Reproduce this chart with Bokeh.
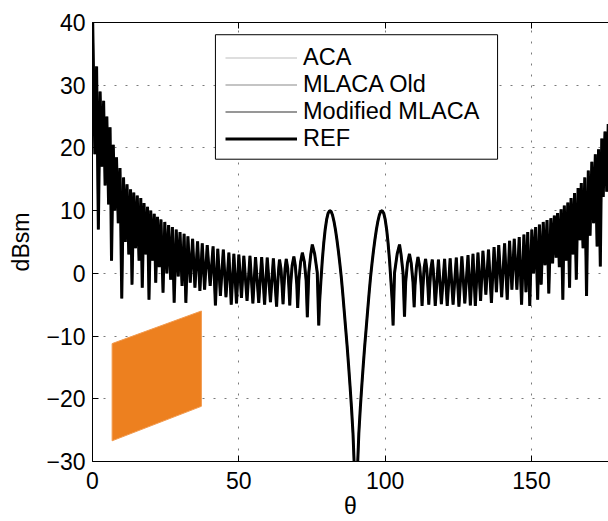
from bokeh.plotting import figure
from bokeh.models import (ColumnDataSource, Legend, LegendItem, FixedTicker,
                          LinearAxis, BoxAnnotation, Range1d)
from bokeh.embed import file_html
from bokeh.resources import INLINE

# ---- data: (theta [deg], RCS [dBsm]) ----
LEFT_LOBES = [
    (0.0, 42.0), (0.8, 19.0), (1.4, 33.0), (2.0, 7.0), (2.6, 29.0), (3.2, 17.0),
    (3.8, 27.5), (4.3, 14.0), (4.9, 25.0), (5.5, 11.0), (6.0, 23.3), (6.5, 2.0),
    (7.1, 20.5), (7.6, 10.0), (8.2, 18.5), (8.8, 8.0), (9.4, 16.8), (10.0, -4.0),
    (10.6, 15.3), (11.2, 5.0), (11.8, 14.2), (12.4, 3.0), (13.0, 13.4), (13.5, -1.8),
    (14.1, 12.9), (14.7, 4.0), (15.3, 12.4), (15.9, 2.0), (16.5, 12.0), (17.0, -2.3),
    (17.6, 11.2), (18.2, 3.0), (18.8, 10.6), (19.3, -4.2), (19.9, 10.0), (20.5, 2.0),
    (21.1, 9.5), (21.6, -1.5), (22.2, 9.0), (22.8, 1.0), (23.4, 8.6), (24.1, -3.1),
    (24.7, 8.2), (25.4, 0.0), (26.0, 7.7), (26.7, -1.0), (27.3, 7.4), (27.9, -4.7),
    (28.6, 7.0), (29.3, -0.5), (29.9, 6.6), (30.6, -2.0), (31.3, 6.3), (31.9, -4.7),
    (32.6, 5.9), (33.4, -1.5), (34.2, 5.5), (35.0, -2.3), (35.9, 5.1), (36.7, -2.8),
    (37.5, 4.8), (38.3, -2.6), (39.2, 4.5), (40.2, -2.0), (41.2, 4.3), (42.0, -5.1),
    (42.8, 3.9), (43.7, -3.6), (44.7, 3.8), (45.6, -3.8), (46.6, 3.3), (47.4, -5.0),
    (48.3, 3.1), (49.2, -4.8), (50.0, 3.0), (50.9, -3.9), (51.7, 2.8), (52.8, -4.4),
    (53.8, 2.8), (54.8, -4.8), (55.7, 2.6), (56.8, -4.7), (57.8, 2.6), (58.8, -5.0),
    (59.7, 2.5), (60.8, -4.6), (61.8, 2.4), (62.9, -5.3),
    (63.2, -2.3), (63.6, 0.7), (63.9, 2.2), (64.4, 0.7), (64.8, -2.3), (65.1, -4.9),
    (65.4, -2.2), (65.8, 0.8), (66.2, 2.3), (66.7, 0.8), (67.1, -2.2), (67.4, -5.1),
    (67.7, -1.8), (68.2, 1.2), (68.8, 2.7), (69.3, 1.2), (69.8, -1.8), (70.1, -5.5),
    (70.5, -1.2), (71.1, 1.8), (71.7, 3.3), (72.4, 1.8), (73.0, -1.2), (73.4, -7.0),
    (73.9, 0.1), (74.6, 3.1), (75.1, 4.6), (75.9, 3.1), (76.8, 0.1), (77.3, -8.3),
]

MAIN_LOBES = [
    (77.6, -4.5), (78.0, -1.5), (78.5, 2.0), (79.0, 4.8), (79.5, 7.0), (80.0, 8.6),
    (80.5, 9.6), (81.0, 10.0), (81.5, 9.9), (82.0, 9.3), (82.5, 8.3), (83.0, 7.0),
    (83.5, 5.4), (84.0, 3.6), (84.5, 1.6), (85.0, -0.6), (85.5, -3.2), (86.0, -6.0),
    (86.5, -8.8), (87.0, -11.6), (87.5, -14.7), (88.0, -18.0), (88.5, -21.5),
    (89.0, -25.5), (89.5, -31.5), (90.0, -45.0),
    (90.5, -31.5), (91.0, -25.5), (91.5, -21.5), (92.0, -18.0), (92.5, -14.7),
    (93.0, -11.6), (93.5, -8.8), (94.0, -6.0), (94.5, -3.2), (95.0, -0.6), (95.5, 1.6),
    (96.0, 3.6), (96.5, 5.4), (97.0, 7.0), (97.5, 8.3), (98.0, 9.3), (98.5, 9.9),
    (99.0, 10.0), (99.5, 9.6), (100.0, 8.6), (100.5, 7.0), (101.0, 4.8), (101.5, 2.0),
    (102.0, -1.5), (102.4, -4.5),
]

RIGHT_LOBES = [
    (102.7, -8.3), (103.2, 0.1), (104.1, 3.1), (104.9, 4.6), (105.4, 3.1), (106.1, 0.1),
    (106.6, -6.9), (107.0, -1.4), (107.6, 1.6), (108.3, 3.1), (108.9, 1.6), (109.5, -1.4),
    (109.9, -5.4), (110.2, -1.9), (110.7, 1.1), (111.2, 2.6), (111.8, 1.1), (112.3, -1.9),
    (112.6, -5.2), (112.9, -2.2), (113.3, 0.8), (113.8, 2.3), (114.2, 0.8), (114.6, -2.2),
    (114.9, -5.0), (115.2, -2.3), (115.6, 0.7), (116.1, 2.2), (116.4, 0.7), (116.8, -2.3),
    (117.1, -5.2), (118.2, 2.2), (119.2, -4.9), (120.3, 2.3), (121.2, -5.2), (122.2, 2.4),
    (123.2, -5.0), (124.3, 2.5), (125.2, -5.3), (126.2, 2.7), (127.2, -4.8), (128.3, 2.9),
    (129.1, -5.1), (130.0, 3.1), (130.8, -5.2), (131.7, 3.3), (132.6, -4.4), (133.4, 3.6),
    (134.4, -3.4), (135.3, 3.8), (136.3, -4.7), (137.2, 4.2), (138.0, -3.0), (138.8, 4.5),
    (139.8, -3.8), (140.8, 4.8), (141.7, -4.2), (142.5, 5.2), (143.3, -2.6), (144.1, 5.5),
    (145.0, -2.6), (145.8, 5.8), (146.6, -5.0), (147.4, 6.2), (148.1, -3.0), (148.7, 6.6),
    (149.4, -5.2), (150.1, 7.0), (150.7, 0.0), (151.4, 7.4), (152.1, -4.2), (152.7, 7.8),
    (153.3, -1.8), (154.0, 8.2), (154.6, 1.3), (155.3, 8.5), (155.9, -3.2), (156.6, 8.8),
    (157.2, 1.6), (157.8, 9.2), (158.4, 2.5), (158.9, 9.6), (159.5, 1.0), (160.1, 10.2),
    (160.7, -4.2), (161.2, 10.8), (161.8, 2.0), (162.4, 11.3), (163.0, -2.3), (163.5, 12.0),
    (164.1, 3.0), (164.7, 12.8), (165.3, -1.0), (165.9, 13.6), (166.5, 5.3), (167.0, 14.4),
    (167.6, 4.0), (168.2, 15.3), (168.8, -3.6), (169.4, 16.4), (170.0, 6.0), (170.6, 17.8),
    (171.2, 8.0), (171.8, 19.0), (172.4, 4.3), (172.9, 19.8), (173.5, 1.1), (174.0, 21.5),
    (174.5, 12.2), (175.1, 22.6), (175.7, 13.0), (176.2, 23.8), (176.8, 14.0), (177.4, 26.0),
    (178.0, 9.0), (178.6, 30.0), (179.2, 18.0), (180.0, 38.0),
]

# inset picture of the plate (parallelogram), in axis units
PLATE_X = [6.7, 37.2, 37.2, 6.7]
PLATE_Y = [-11.2, -6.0, -21.2, -26.7]

SERIES_NAMES = ["ACA", "MLACA Old", "Modified MLACA", "REF"]
X_TICKS = [0, 50, 100, 150]
Y_TICKS = [-30, -20, -10, 0, 10, 20, 30, 40]
Y_TICK_LABELS = {-30: "\u221230", -20: "\u221220", -10: "\u221210"}

pts = LEFT_LOBES + MAIN_LOBES + RIGHT_LOBES
THETA = [t for t, _ in pts]
REF_DB = [v for _, v in pts]
# the three approximations lie exactly under the reference curve
ACA_DB = list(REF_DB)
MLACA_OLD_DB = list(REF_DB)
MOD_MLACA_DB = list(REF_DB)

FONT = "Liberation Sans"

p = figure(width=608, height=521, x_range=Range1d(0, 176.3), y_range=Range1d(-30, 40),
           output_backend="svg", toolbar_location=None,
           min_border_left=92, min_border_right=0, min_border_top=22, min_border_bottom=58,
           outline_line_color=None, background_fill_color="white", border_fill_color="white")

# axes
for ax in (p.xaxis[0], p.yaxis[0]):
    ax.major_tick_in = 6
    ax.major_tick_out = 0
    ax.minor_tick_in = 0
    ax.minor_tick_out = 0
    ax.axis_line_color = "black"
    ax.axis_line_width = 1
    ax.major_tick_line_color = "black"
    ax.major_label_text_font = FONT
    ax.major_label_text_font_size = "23px"
    ax.major_label_text_color = "black"
    ax.axis_label_text_font = FONT
    ax.axis_label_text_font_size = "23px"
    ax.axis_label_text_font_style = "normal"
    ax.axis_label_text_color = "black"

p.xaxis.ticker = FixedTicker(ticks=X_TICKS)
p.xaxis.major_label_standoff = 10
p.xaxis.axis_label = "\u03b8"
p.xaxis.axis_label_standoff = 1

p.yaxis.ticker = FixedTicker(ticks=Y_TICKS)
p.yaxis.major_label_overrides = Y_TICK_LABELS
p.yaxis.major_label_standoff = 7
p.yaxis.axis_label = "dBsm"
p.yaxis.axis_label_standoff = 9

top = LinearAxis(ticker=FixedTicker(ticks=X_TICKS), major_tick_in=6, major_tick_out=0,
                 minor_tick_in=0, minor_tick_out=0, axis_line_color="black",
                 major_label_text_font_size="1px", major_label_text_color=None,
                 major_label_standoff=0)
p.add_layout(top, "above")

# grid
p.xgrid.ticker = FixedTicker(ticks=X_TICKS)
p.ygrid.ticker = FixedTicker(ticks=Y_TICKS)
for g in (p.xgrid[0], p.ygrid[0]):
    g.grid_line_color = "#7a7a7a"
    g.grid_line_width = 1
    g.grid_line_dash = "2 9"

src = ColumnDataSource(dict(theta=THETA, aca=ACA_DB, old=MLACA_OLD_DB,
                            mod=MOD_MLACA_DB, ref=REF_DB))
r_aca = p.line("theta", "aca", source=src, line_color="#dedede", line_width=2)
r_old = p.line("theta", "old", source=src, line_color="#c4c4c4", line_width=2)
r_mod = p.line("theta", "mod", source=src, line_color="#979797", line_width=2)
r_ref = p.line("theta", "ref", source=src, line_color="black", line_width=3)

p.patch(PLATE_X, PLATE_Y, fill_color="#ED801F", line_color="#F29A4E", line_width=1)

box = BoxAnnotation(left=42.0, right=138.4, bottom=18.2, top=38.05,
                    fill_color="white", fill_alpha=1.0,
                    line_color="black", line_alpha=1.0, line_width=1)
p.add_layout(box)

legend = Legend(items=[LegendItem(label=n, renderers=[r])
                       for n, r in zip(SERIES_NAMES, [r_aca, r_old, r_mod, r_ref])],
                location=(133, 309), padding=4, spacing=0, margin=0,
                label_height=27, glyph_height=27, glyph_width=72, label_standoff=6,
                label_text_font=FONT, label_text_font_size="23.5px",
                label_text_color="black",
                border_line_color=None, background_fill_alpha=0.0)
p.add_layout(legend)

open("out.html", "w").write(file_html(p, INLINE, title="RCS"))
